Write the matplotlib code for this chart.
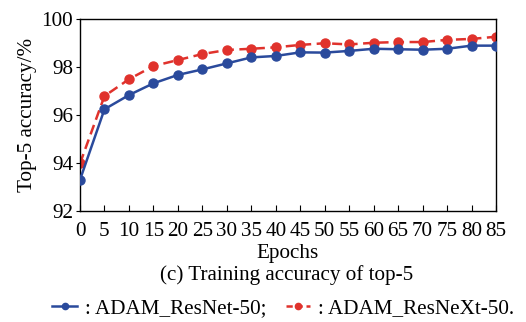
import matplotlib.pyplot as plt
from matplotlib.lines import Line2D

plt.rcParams['font.family'] = ['Liberation Serif', 'DejaVu Serif']

epochs = [0, 5, 10, 15, 20, 25, 30, 35, 40, 45, 50, 55, 60, 65, 70, 75, 80, 85]
resnet = [93.30, 96.24, 96.83, 97.32, 97.67, 97.90, 98.15, 98.40, 98.46, 98.61,
          98.60, 98.67, 98.76, 98.74, 98.72, 98.76, 98.89, 98.89]
resnext = [93.98, 96.79, 97.49, 98.04, 98.29, 98.54, 98.71, 98.76, 98.82, 98.92,
           98.99, 98.94, 99.01, 99.04, 99.04, 99.13, 99.17, 99.26]

blue = '#2a4a9c'
red = '#e0322c'
fs = 15.2

fig = plt.figure(figsize=(5.26, 3.22), dpi=100)
ax = fig.add_axes([80 / 526, 1 - 211 / 322, 416 / 526, 192 / 322])

ax.plot(epochs, resnet, '-o', color=blue, lw=1.8, ms=6.5, zorder=3)
ax.plot(epochs, resnext, '--o', color=red, lw=1.8, ms=6.5, dashes=(4, 2.2), zorder=2)

ax.set_xlim(0, 85)
ax.set_ylim(92, 100)
ax.set_xticks(epochs)
ax.set_yticks([92, 94, 96, 98, 100])
ax.tick_params(axis='x', direction='in', length=4, labelsize=fs, pad=8)
ax.tick_params(axis='y', direction='out', length=3, labelsize=fs, pad=2)
for s in ax.spines.values():
    s.set_linewidth(1.0)

ax.set_ylabel('Top-5 accuracy/%', fontsize=fs, labelpad=3)
ax.set_xlabel('Epochs', fontsize=fs, labelpad=2)

fig.text(286.5 / 526, 1 - 275 / 322, '(c) Training accuracy of top-5',
         ha='center', va='center', fontsize=fs)

h1 = Line2D([], [], color=blue, lw=1.8, marker='o', ms=4.5)
h2 = Line2D([], [], color=red, lw=1.8, marker='o', ms=4.5, ls='--', dashes=(2.5, 1.5))
fig.legend([h1, h2], [': ADAM_ResNet-50;', ': ADAM_ResNeXt-50.'],
           loc='center', bbox_to_anchor=(283.5 / 526, 1 - 308 / 322), ncol=2,
           frameon=False, fontsize=fs, handlelength=1.15, handletextpad=0.4,
           columnspacing=0.9, borderaxespad=0, borderpad=0)

fig.savefig('out.png', dpi=100)
